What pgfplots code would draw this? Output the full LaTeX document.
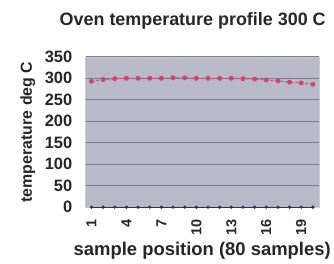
\documentclass[border=0pt]{standalone}
\usepackage{pgfplots}
\pgfplotsset{compat=1.18}
\usepackage{graphicx}
\usepackage{fontspec}
\setmainfont{Liberation Sans}
\definecolor{plotbg}{HTML}{B8BAC7}
\definecolor{gridc}{HTML}{7A7C88}
\definecolor{pinkc}{HTML}{D4426E}
\definecolor{navyc}{HTML}{2C2F5E}
\begin{document}
\begin{tikzpicture}[x=1pt,y=1pt]
\path (0,0) rectangle (334,262);
\begin{axis}[
  at={(86pt,54pt)}, anchor=south west,
  scale only axis, width=234pt, height=151pt,
  xmin=0.5, xmax=20.5, ymin=0, ymax=350,
  xtick={1,4,7,10,13,16,19},
  xticklabel={\rotatebox{90}{\pgfmathprintnumber[int detect]{\tick}}},
  minor xtick={0.5,1.5,...,20.5},
  ytick={0,50,...,350},
  axis background/.style={fill=plotbg},
  axis line style={draw=gray!40},
  ymajorgrids, grid style={gridc, line width=0.6pt},
  major tick length=0pt, minor tick length=3pt,
  every minor tick/.style={gray!60},
  yticklabel style={font=\bfseries\fontsize{16.5}{16.5}\selectfont, text=black!85, xshift=-10pt},
  xticklabel style={font=\bfseries\fontsize{14.5}{14.5}\selectfont, text=black!85, anchor=north, yshift=-9pt},
  /pgf/number format/assume math mode=true,
  xlabel={sample position (80 samples)},
  ylabel={temperature deg C},
  xlabel style={font=\bfseries\fontsize{18.5}{18.5}\selectfont, text=black!85, at={(axis description cs:0.5,-0.3245)}, anchor=base},
  ylabel style={font=\bfseries\fontsize{16}{16}\selectfont, text=black!85, at={(axis description cs:-0.248,0.5)}, anchor=center},
  clip=false,
]
\addplot[pinkc, densely dashed, line width=0.9pt, mark=*, mark size=2pt, mark options={solid, fill=pinkc, draw=pinkc}]
coordinates {(1,293)(2,297)(3,299)(4,300)(5,300)(6,300)(7,300)(8,301)(9,301)(10,300)(11,300)(12,300)(13,300)(14,299)(15,298)(16,296)(17,294)(18,291)(19,289)(20,286)};
\addplot[navyc, line width=0.7pt, mark=*, mark size=1.3pt, mark options={fill=navyc}]
coordinates {(1,0)(2,0)(3,0)(4,0)(5,0)(6,0)(7,0)(8,0)(9,0)(10,0)(11,0)(12,0)(13,0)(14,0)(15,0)(16,0)(17,0)(18,0)(19,0)(20,0)};
\end{axis}
\node[font=\bfseries\fontsize{18}{18}\selectfont, text=black!85, anchor=base] at (193.5,236) {Oven temperature profile 300 C};
\end{tikzpicture}
\end{document}
